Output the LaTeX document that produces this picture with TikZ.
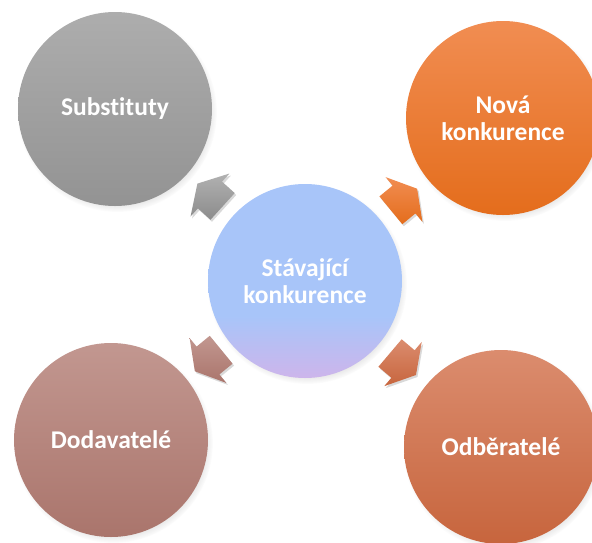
\documentclass[tikz,border=0pt]{standalone}
\usepackage{fontspec}
\setmainfont{Carlito}[Ligatures=NoCommon]
\usetikzlibrary{calc,shadows}

\definecolor{subtop}{HTML}{ADADAD}
\definecolor{subbot}{HTML}{939393}
\definecolor{novtop}{HTML}{F18D52}
\definecolor{novbot}{HTML}{E46D1C}
\definecolor{dodtop}{HTML}{C29790}
\definecolor{dodbot}{HTML}{AA756C}
\definecolor{odbtop}{HTML}{DB8C6E}
\definecolor{odbbot}{HTML}{C7653D}
\definecolor{stavtop}{HTML}{A8C5F9}
\definecolor{stavbot}{HTML}{CDB5EB}

\pgfdeclareverticalshading{stavfill}{100bp}{color(0bp)=(stavbot); color(25bp)=(stavbot);
  color(41bp)=(stavtop); color(100bp)=(stavtop)}

% block arrow half way between two circles, pointing to the second one
\newcommand{\radarrow}[3]{%
  \coordinate (m) at ($(#1)!0.5!(#2)$);
  \coordinate (t) at ($(m)!-17pt!(#2)$);
  \shade[#3] ($(t)!18pt!90:(#2)$) -- ($(m)!18pt!90:(#2)$) -- ($(m)!29pt!90:(#2)$)
    -- ($(m)!17pt!(#2)$) -- ($(m)!29pt!-90:(#2)$) -- ($(m)!18pt!-90:(#2)$)
    -- ($(t)!18pt!-90:(#2)$) -- cycle;
}

\begin{document}
\begin{tikzpicture}[x=1pt,y=-1pt,
  force node/.style={circle,minimum size=194pt,inner sep=0pt,text=white,align=center,
    font=\bfseries\fontsize{25.5}{27}\selectfont,
    circular drop shadow={shadow xshift=2pt,shadow yshift=-3pt,shadow scale=1.03,opacity=0.35}},
  block/.style={drop shadow={shadow xshift=1.5pt,shadow yshift=-2pt,opacity=0.3}}]
  \useasboundingbox (0,0) rectangle (592,542);
  \clip (0,0) rectangle (592,542);

  \node[force node,top color=subtop,bottom color=subbot] (sub) at (115,109) {Substituty};
  \node[force node,top color=novtop,bottom color=novbot] (nov) at (503,118) {Nová\\konkurence};
  \node[force node,top color=dodtop,bottom color=dodbot] (dod) at (111,440) {Dodavatelé};
  \node[force node,top color=odbtop,bottom color=odbbot] (odb) at (501,447) {Odběratelé};
  \node[force node,shading=stavfill] (stav) at (305,281) {Stávající\\konkurence};

  \radarrow{stav}{sub}{block,top color=subtop!95!white,bottom color=subbot!95!black}
  \radarrow{stav}{nov}{block,top color=novtop,bottom color=novbot}
  \radarrow{stav}{dod}{block,top color=dodtop,bottom color=dodbot}
  \radarrow{stav}{odb}{block,top color=odbtop,bottom color=odbbot}
\end{tikzpicture}
\end{document}
